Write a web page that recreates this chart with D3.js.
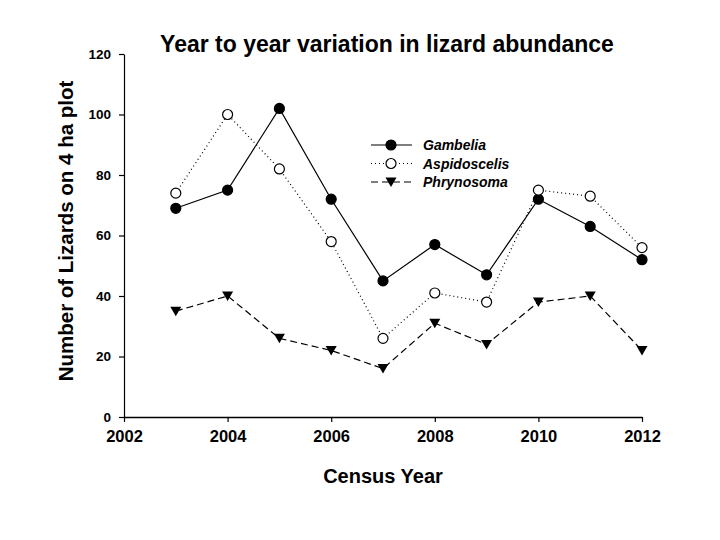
<!DOCTYPE html>
<html>
<head>
<meta charset="utf-8">
<script src="https://cdn.jsdelivr.net/npm/d3@7"></script>
<style>
  body { margin: 0; background: #fff; }
  text { font-family: "Liberation Sans", Arial, sans-serif; }
</style>
</head>
<body>
<svg id="chart" width="720" height="540"></svg>
<script>
const years = [2003, 2004, 2005, 2006, 2007, 2008, 2009, 2010, 2011, 2012];
const gambelia = [69, 75, 102, 72, 45, 57, 47, 72, 63, 52];
const aspidoscelis = [74, 100, 82, 58, 26, 41, 38, 75, 73, 56];
const phrynosoma = [35, 40, 26, 22, 16, 31, 24, 38, 40, 22];
const xTicks = [2002, 2004, 2006, 2008, 2010, 2012];
const yTicks = [0, 20, 40, 60, 80, 100, 120];

const series = [
    { name: 'Gambelia', values: gambelia, dash: null, marker: 'filled' },
    { name: 'Aspidoscelis', values: aspidoscelis, dash: '1,3', marker: 'open' },
    { name: 'Phrynosoma', values: phrynosoma, dash: '7,4', marker: 'tri' }
];

const svg = d3.select('#chart');
const x = d3.scaleLinear().domain([2002, 2012]).range([124, 642]);
const y = d3.scaleLinear().domain([0, 120]).range([417, 54]);

// axes
svg.append('g')
    .attr('transform', 'translate(0,417)')
    .call(d3.axisBottom(x).tickValues(xTicks).tickFormat(d3.format('d')).tickSize(5).tickSizeOuter(0).tickPadding(8))
    .call(g => g.select('.domain').attr('stroke-width', 1.5))
    .call(g => g.selectAll('.tick line').attr('stroke-width', 1.2))
    .call(g => g.selectAll('text').attr('font-size', 16.5).attr('font-weight', 'bold').attr('fill', '#000'));

svg.append('g')
    .attr('transform', 'translate(124,0)')
    .call(d3.axisLeft(y).tickValues(yTicks).tickSize(5).tickSizeOuter(0).tickPadding(8))
    .call(g => g.select('.domain').attr('stroke-width', 1.2))
    .call(g => g.selectAll('.tick line').attr('stroke-width', 1.2))
    .call(g => g.selectAll('text').attr('font-size', 13.5).attr('font-weight', 'bold').attr('fill', '#000'));

const line = d3.line().x((d, i) => x(years[i])).y(d => y(d));

function drawMarker(sel, kind) {
    if (kind === 'tri') {
        sel.append('path')
            .attr('d', 'M-5.5,-4.5L5.5,-4.5L0,5z')
            .attr('fill', '#000');
    } else {
        sel.append('circle')
            .attr('r', 5)
            .attr('fill', kind === 'filled' ? '#000' : '#fff')
            .attr('stroke', '#000')
            .attr('stroke-width', 1.2);
    }
}

series.forEach(s => {
    svg.append('path')
        .datum(s.values)
        .attr('fill', 'none')
        .attr('stroke', '#000')
        .attr('stroke-width', 1.2)
        .attr('stroke-dasharray', s.dash)
        .attr('d', line);
});

series.forEach(s => {
    svg.append('g')
        .selectAll('g')
        .data(s.values)
        .join('g')
        .attr('transform', (d, i) => `translate(${x(years[i])},${y(d)})`)
        .each(function() { drawMarker(d3.select(this), s.marker); });
});

// legend
const legend = svg.append('g').attr('transform', 'translate(371,145)');
series.forEach((s, i) => {
    const row = legend.append('g').attr('transform', `translate(0,${i * 18.5})`);
    row.append('line')
        .attr('x1', 0).attr('x2', 41)
        .attr('stroke', '#000').attr('stroke-width', 1.2)
        .attr('stroke-dasharray', s.dash);
    const m = row.append('g').attr('transform', 'translate(20,0)');
    drawMarker(m, s.marker);
    row.append('text')
        .attr('x', 52).attr('y', 5)
        .attr('font-size', 14).attr('font-weight', 'bold').attr('font-style', 'italic')
        .text(s.name);
});

// titles
svg.append('text')
    .attr('x', 387).attr('y', 52)
    .attr('text-anchor', 'middle')
    .attr('font-size', 23).attr('font-weight', 'bold')
    .text('Year to year variation in lizard abundance');

svg.append('text')
    .attr('x', 383).attr('y', 483)
    .attr('text-anchor', 'middle')
    .attr('font-size', 20).attr('font-weight', 'bold')
    .text('Census Year');

svg.append('text')
    .attr('transform', 'translate(73,231) rotate(-90)')
    .attr('text-anchor', 'middle')
    .attr('font-size', 20.5).attr('font-weight', 'bold')
    .text('Number of Lizards on 4 ha plot');
</script>
</body>
</html>
